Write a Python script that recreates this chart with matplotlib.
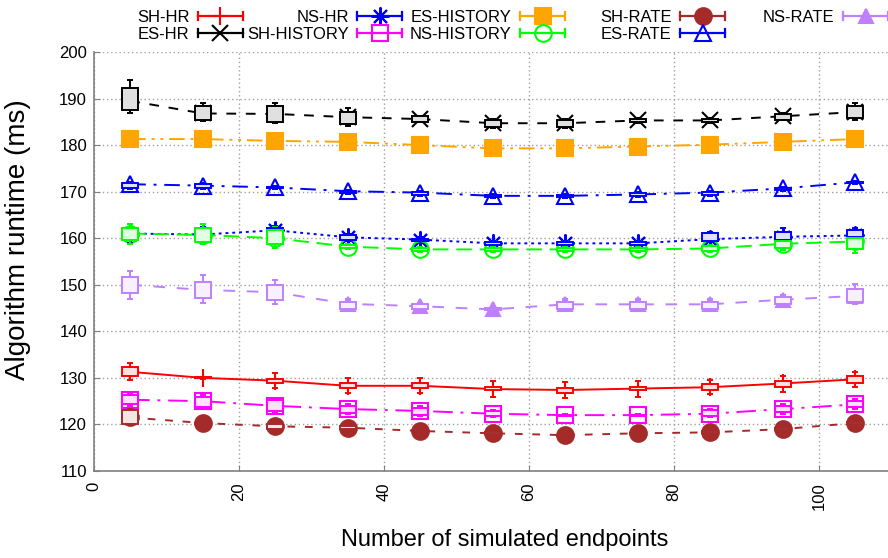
import numpy as np
import matplotlib
matplotlib.use("Agg")
import matplotlib.pyplot as plt
from matplotlib.lines import Line2D
from matplotlib.legend_handler import HandlerBase

plt.rcParams['font.family'] = ['Liberation Sans', 'DejaVu Sans']

endpoints = [5, 15, 25, 35, 45, 55, 65, 75, 85, 95, 105]

# mean, box (q1/q3) and whisker (lo/hi) per series
sh_hr_mean = [131.3, 130.0, 129.4, 128.3, 128.3, 127.6, 127.4, 127.7, 128.0, 128.8, 129.7]
sh_hr_q1 = [130.3, 129.9, 128.8, 127.9, 127.9, 127.4, 126.8, 127.3, 127.4, 128.0, 128.8]
sh_hr_q3 = [132.3, 130.1, 129.7, 128.8, 128.8, 128.1, 127.8, 128.0, 128.6, 129.4, 130.4]
sh_hr_lo = [129.6, 129.8, 127.8, 126.7, 126.7, 126.0, 125.6, 126.0, 126.5, 127.0, 128.0]
sh_hr_hi = [133.1, 130.2, 131.0, 130.0, 130.0, 129.4, 129.1, 129.4, 129.6, 130.3, 131.2]

es_hr_mean = [189.5, 186.8, 186.7, 186.0, 185.6, 184.7, 184.7, 185.3, 185.3, 186.2, 187.1]
es_hr_q1 = [187.5, 185.4, 185.0, 184.5, 185.0, 183.9, 183.9, 184.9, 184.9, 185.5, 185.8]
es_hr_q3 = [192.3, 188.4, 188.3, 187.2, 186.2, 185.5, 185.5, 185.7, 185.7, 186.7, 188.4]
es_hr_lo = [187.0, 185.2, 184.8, 184.2, 184.9, 183.7, 183.7, 184.8, 184.8, 185.4, 185.5]
es_hr_hi = [194.0, 189.0, 189.0, 188.0, 186.3, 185.6, 185.6, 185.8, 185.8, 186.9, 189.0]

ns_hr_mean = [161.0, 160.8, 161.7, 160.2, 159.7, 158.9, 158.9, 158.9, 159.8, 160.3, 160.6]
ns_hr_q1 = [160.0, 159.8, 160.7, 159.6, 159.4, 158.6, 158.6, 158.6, 159.5, 159.6, 160.3]
ns_hr_q3 = [162.0, 161.8, 162.3, 160.6, 159.9, 159.1, 159.1, 159.1, 161.1, 161.4, 161.8]
ns_hr_lo = [159.0, 159.0, 160.3, 159.3, 159.3, 158.5, 158.5, 158.5, 159.3, 159.4, 160.1]
ns_hr_hi = [163.0, 162.5, 162.6, 161.0, 160.2, 159.4, 159.4, 159.4, 161.4, 162.1, 162.3]

sh_hist_mean = [125.3, 125.0, 124.0, 123.3, 122.9, 122.3, 122.0, 122.0, 122.3, 123.3, 124.3]
sh_hist_q1 = [124.4, 123.8, 122.8, 122.5, 122.1, 121.8, 121.9, 121.9, 121.8, 122.6, 123.7]
sh_hist_q3 = [126.3, 126.0, 125.2, 124.0, 123.6, 122.9, 122.1, 122.1, 123.1, 124.0, 125.1]
sh_hist_lo = [123.9, 123.5, 122.5, 122.2, 121.8, 121.6, 121.8, 121.8, 121.6, 122.3, 123.4]
sh_hist_hi = [126.8, 126.3, 125.5, 124.3, 123.9, 123.1, 122.2, 122.2, 123.3, 124.3, 125.4]

es_hist_mean = [181.3, 181.3, 180.9, 180.7, 180.0, 179.3, 179.3, 179.7, 180.1, 180.7, 181.3]
es_hist_q1 = [181.2, 181.2, 180.8, 180.6, 179.9, 179.2, 179.2, 179.6, 180.0, 180.6, 181.2]
es_hist_q3 = [181.4, 181.4, 181.0, 180.8, 180.1, 179.4, 179.4, 179.8, 180.2, 180.8, 181.4]
es_hist_lo = [181.0, 181.0, 180.6, 180.4, 179.7, 179.0, 179.0, 179.4, 179.8, 180.4, 181.0]
es_hist_hi = [181.6, 181.6, 181.2, 181.0, 180.3, 179.6, 179.6, 180.0, 180.4, 181.0, 181.6]

ns_hist_mean = [161.0, 160.7, 160.0, 158.2, 157.6, 157.6, 157.6, 157.6, 157.8, 158.8, 159.3]
ns_hist_q1 = [159.6, 159.1, 158.8, 157.9, 157.3, 157.3, 157.3, 157.3, 157.3, 157.8, 157.6]
ns_hist_q3 = [162.3, 162.3, 161.8, 158.5, 157.9, 157.9, 157.9, 157.9, 158.3, 159.5, 160.0]
ns_hist_lo = [158.8, 158.7, 157.8, 157.6, 157.0, 157.0, 157.0, 157.0, 157.0, 157.5, 156.8]
ns_hist_hi = [163.1, 163.0, 162.4, 158.8, 158.2, 158.2, 158.2, 158.2, 158.6, 160.0, 160.5]

sh_rate_mean = [121.5, 120.3, 119.6, 119.3, 118.6, 118.1, 117.7, 118.1, 118.3, 119.0, 120.3]
sh_rate_q1 = [120.0, 120.2, 119.0, 119.1, 118.5, 117.9, 117.6, 118.0, 118.1, 118.8, 120.1]
sh_rate_q3 = [123.1, 120.4, 120.2, 119.6, 118.7, 118.3, 117.8, 118.2, 118.5, 119.2, 120.5]
sh_rate_lo = [119.8, 120.0, 118.8, 118.9, 118.3, 117.7, 117.4, 117.8, 117.9, 118.6, 119.9]
sh_rate_hi = [123.3, 120.6, 120.4, 119.8, 118.9, 118.5, 118.0, 118.4, 118.7, 119.4, 120.7]

es_rate_mean = [171.6, 171.3, 170.9, 170.1, 169.8, 169.1, 169.1, 169.4, 169.8, 170.7, 172.0]
es_rate_q1 = [170.8, 170.8, 170.8, 169.8, 169.3, 168.9, 168.9, 169.1, 169.3, 170.3, 171.8]
es_rate_q3 = [171.9, 171.6, 171.0, 170.2, 170.0, 169.2, 169.2, 169.8, 170.0, 170.8, 172.1]
es_rate_lo = [170.6, 170.6, 170.6, 169.6, 169.1, 168.7, 168.7, 168.9, 169.1, 170.1, 171.6]
es_rate_hi = [172.1, 171.8, 171.2, 170.4, 170.2, 169.4, 169.4, 170.0, 170.2, 171.0, 172.3]

ns_rate_mean = [150.0, 148.9, 148.4, 145.9, 145.4, 144.7, 145.8, 145.8, 145.8, 146.8, 147.6]
ns_rate_q1 = [148.2, 147.1, 146.7, 144.9, 144.7, 144.5, 144.9, 144.9, 144.9, 145.9, 146.2]
ns_rate_q3 = [151.7, 150.7, 150.0, 146.4, 145.8, 145.0, 146.4, 146.4, 146.4, 147.4, 149.0]
ns_rate_lo = [147.0, 146.0, 145.9, 144.8, 144.6, 144.4, 144.8, 144.8, 144.8, 145.8, 145.9]
ns_rate_hi = [153.0, 152.0, 151.0, 146.9, 146.1, 145.2, 146.9, 146.9, 146.9, 147.8, 150.1]

# label, color, dashes, marker, filled marker, marker size, data
series = [
    ("SH-HR", "#ff0000", None, "+", False, 13, sh_hr_mean, sh_hr_q1, sh_hr_q3, sh_hr_lo, sh_hr_hi),
    ("ES-HR", "#000000", (5, 5), "x", False, 11, es_hr_mean, es_hr_q1, es_hr_q3, es_hr_lo, es_hr_hi),
    ("NS-HR", "#0000ff", (1.5, 2), (8, 2, 0), False, 13, ns_hr_mean, ns_hr_q1, ns_hr_q3, ns_hr_lo, ns_hr_hi),
    ("SH-HISTORY", "#ff00ff", (10, 4, 1.5, 4), "s", False, 11, sh_hist_mean, sh_hist_q1, sh_hist_q3, sh_hist_lo, sh_hist_hi),
    ("ES-HISTORY", "#ffa500", (8, 3, 1.5, 3, 1.5, 3), "s", True, 11, es_hist_mean, es_hist_q1, es_hist_q3, es_hist_lo, es_hist_hi),
    ("NS-HISTORY", "#00ff00", (8, 4), "o", False, 12, ns_hist_mean, ns_hist_q1, ns_hist_q3, ns_hist_lo, ns_hist_hi),
    ("SH-RATE", "#a52a2a", (4, 5), "o", True, 12, sh_rate_mean, sh_rate_q1, sh_rate_q3, sh_rate_lo, sh_rate_hi),
    ("ES-RATE", "#0000ff", (8, 4, 1.5, 4), "^", False, 11, es_rate_mean, es_rate_q1, es_rate_q3, es_rate_lo, es_rate_hi),
    ("NS-RATE", "#bf80ff", (6, 6), "^", True, 10, ns_rate_mean, ns_rate_q1, ns_rate_q3, ns_rate_lo, ns_rate_hi),
]


class CapLine(HandlerBase):
    # gnuplot style key sample: line with end bars and the point in the middle
    def create_artists(self, legend, orig, xdescent, ydescent, width, height, fontsize, trans):
        y = height / 2 - ydescent
        x0, x1 = -xdescent, width - xdescent
        c = orig.get_color()
        arts = [Line2D([x0, x1], [y, y], color=c, lw=1.6)]
        for xx in (x0, x1):
            arts.append(Line2D([xx, xx], [y - 3, y + 3], color=c, lw=1.6))
        arts.append(Line2D([(x0 + x1) / 2], [y], ls="none", marker=orig.get_marker(),
                           ms=orig.get_markersize(), mfc=orig.get_markerfacecolor(),
                           mec=orig.get_markeredgecolor(), mew=orig.get_markeredgewidth()))
        for a in arts:
            a.set_transform(trans)
        return arts


fig = plt.figure(figsize=(8.88, 5.58), dpi=100)
ax = fig.add_axes([94 / 888, 1 - 471 / 558, (891.5 - 94) / 888, (471 - 52) / 558])

x = np.array(endpoints)
handles = []
for label, c, dash, mk, filled, ms, mean, q1, q3, lo, hi in series:
    rgb = np.array(matplotlib.colors.to_rgb(c))
    fill = 1 - 0.12 * (1 - rgb)
    ls = "-" if dash is None else (0, dash)
    h, = ax.plot(x, mean, color=c, lw=1.4, linestyle=ls, marker=mk, ms=ms,
                 mfc=c if filled else "none", mec=c, mew=1.5, zorder=3, label=label)
    handles.append(h)
    q1, q3, lo, hi = map(np.array, (q1, q3, lo, hi))
    ax.vlines(x, lo, q1, color=c, lw=1.4, zorder=4)
    ax.vlines(x, q3, hi, color=c, lw=1.4, zorder=4)
    ax.hlines(lo, x - 0.4, x + 0.4, color=c, lw=1.4, zorder=4)
    ax.hlines(hi, x - 0.4, x + 0.4, color=c, lw=1.4, zorder=4)
    ax.bar(x, q3 - q1, bottom=q1, width=2.2, color=fill, edgecolor=c, lw=1.4, zorder=5)

ax.set_xlim(0, 110)
ax.set_ylim(110, 200)
ax.set_xticks([0, 20, 40, 60, 80, 100])
ax.set_yticks(np.arange(110, 201, 10))
ax.tick_params(axis="x", labelrotation=90, labelsize=12, direction="in", length=4, color="#808080", pad=8)
ax.tick_params(axis="y", labelsize=12, direction="in", length=4, color="#808080", pad=5)
ax.grid(True, color="#a0a0a0", linestyle=(0, (1, 2)), lw=1)
ax.set_axisbelow(True)
for s in ("top", "right"):
    ax.spines[s].set_visible(False)
for s in ("left", "bottom"):
    ax.spines[s].set_color("#808080")
    ax.spines[s].set_linewidth(1.2)

fig.text(505 / 888, 1 - 540 / 558, "Number of simulated endpoints", fontsize=17, ha="center", va="center")
fig.text(18 / 888, 1 - 240 / 558, "Algorithm runtime (ms)", fontsize=20, rotation=90, ha="center", va="center")

# key: five columns, label text to the left of the sample
col_right = [243, 402, 565, 725, 888]
for i, xr in enumerate(col_right):
    hs = handles[2 * i:2 * i + 2]
    fig.legend(handles=hs, labels=[h.get_label() for h in hs], loc="upper right",
               bbox_to_anchor=(xr / 888, 1 - 10 / 558), frameon=False, markerfirst=False,
               fontsize=12, handlelength=2.7, handletextpad=0.5, labelspacing=0.1,
               borderpad=0, borderaxespad=0, handler_map={Line2D: CapLine()})

fig.savefig("out.png", dpi=100)
